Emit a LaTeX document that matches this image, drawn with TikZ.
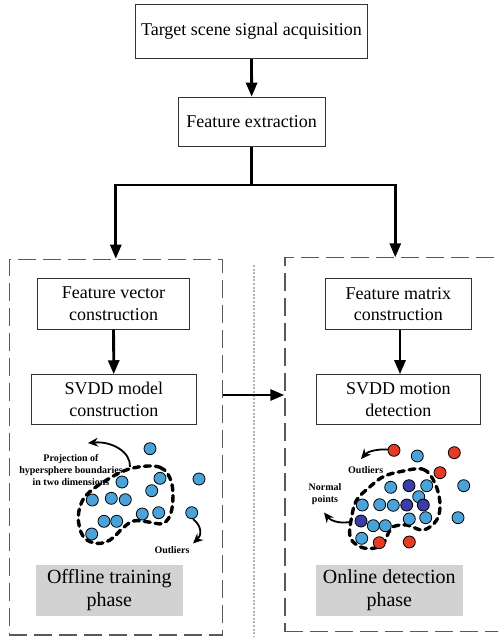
\documentclass[tikz,border=0pt]{standalone}
\usepackage{fontspec}
\setmainfont{Liberation Serif}
\usetikzlibrary{arrows.meta,positioning,calc}
\definecolor{dotblue}{HTML}{4AA3D8}
\definecolor{dotred}{HTML}{E53A26}
\definecolor{dotnavy}{HTML}{3B3DA6}
\definecolor{phasegray}{HTML}{D2D2D2}
\tikzset{
  procbox/.style={draw=black!80,line width=0.9pt,align=center,inner sep=0pt,font=\fontsize{18}{21.7}\selectfont},
  phasebox/.style={fill=phasegray,align=center,inner sep=0pt,minimum width=146.7,minimum height=50.7,font=\fontsize{20}{23.4}\selectfont},
  panelbox/.style={draw=black!65,line width=1.3pt,dash pattern=on 18pt off 7pt,inner sep=0pt},
  flowarr/.style={-{Triangle[length=14pt,width=11pt]},line width=2.8pt},
  flowline/.style={line width=2.8pt},
  blob/.style={line width=3.4pt,dash pattern=on 6pt off 5pt,line cap=round},
  curvarr/.style={-{Stealth[length=10pt,width=9pt]},line width=1.8pt},
  smalllab/.style={font=\bfseries\fontsize{10}{12}\selectfont,align=center,inner sep=0pt},
  dotc/.style={draw=black,line width=0.8pt}
}

\begin{document}
\begin{tikzpicture}[x=1pt,y=-1pt]
  \useasboundingbox (0,0) rectangle (498,637);
  \clip (0,0) rectangle (498,637);

  % main flow
  \node[procbox,minimum width=231.6,minimum height=54.7] (acq) at (251.5,31.3) {Target scene signal acquisition};
  \node[procbox,minimum width=146.7,minimum height=49.7] (fext) at (251.7,122) {Feature extraction};

  % the two phases
  \node[panelbox,minimum width=213,minimum height=375.7] (offline) at (115.8,447.2) {};
  \node[panelbox,minimum width=230,minimum height=374.4] (online) at (400,444.5) {};
  \coordinate (online top) at (395.3,257.3);
  \coordinate (septop) at (254.3,265);
  \coordinate (sepbot) at (254.3,637);
  \draw[gray!60,line width=2.2pt,dash pattern=on 2pt off 1.6pt] (septop) -- (sepbot);

  \node[procbox,minimum width=151.6,minimum height=50.3] (fvec) at (113.5,304) {Feature vector\\construction};
  \node[procbox,minimum width=164.3,minimum height=49.6] (svddm) at (113.8,399.5) {SVDD model\\construction};
  \node[procbox,minimum width=146.7,minimum height=50.3] (fmat) at (398.3,304) {Feature matrix\\construction};
  \node[procbox,minimum width=164.7,minimum height=49.3] (svddd) at (398.3,399.3) {SVDD motion\\detection};

  \node[phasebox] (offlab) at (109.3,590.3) {Offline training\\phase};
  \node[phasebox] (onlab) at (389.3,590.3) {Online detection\\phase};

  % connectors
  \coordinate (split) at (251.7,185);
  \draw[flowarr] (acq) -- (fext);
  \draw[flowline] (fext) -- (split);
  \draw[flowarr] (split) -| (offline.north);
  \draw[flowarr] (split) -| (online top);
  \draw[flowarr] (fvec) -- (svddm);
  \draw[flowarr] (fmat.south -| 400,0) -- (svddd.north -| 400,0);
  \draw[flowarr] (offline.east |- 0,395) -- (online.west |- 0,395);

  % training samples
  \draw[blob] plot[smooth cycle,tension=0.6] coordinates {(131.7,468.3) (160,467.3) (171.7,483.3) (171.7,510) (163.3,523.3) (146.7,521.7) (133.3,521) (123.3,527.7) (110,540) (96.7,543.3) (83.3,536.7) (78.3,516.7) (85,496.7) (106.7,480)};
  \foreach \px/\py in {150/448.7,199/479,160/478.3,151.7/490.7,122/482,92.3/500,111.3/498.3,125.3/499.7,142.3/514,158.7/512.7,191.7/512.7,104/521.3,116.7/521.3,91.7/534}
    \draw[dotc,fill=dotblue] (\px,\py) circle[radius=6];

  \node[smalllab] (projlab) at (71,470) {Projection of\\hypersphere boundaries\\in two dimensions};
  \node[smalllab] (outlabL) at (172,550.3) {Outliers};
  \coordinate (projstart) at (130,467);
  \coordinate (projtip) at (88,443);
  \draw[curvarr] (projstart) .. controls (131,452) and (112,441) .. (projtip);
  \coordinate (outLstart) at (193,519);
  \coordinate (outLtip) at (193,543.5);
  \draw[curvarr] (outLstart) .. controls (203,527) and (201,536) .. (outLtip);

  % detection samples
  \draw[blob] plot[smooth cycle,tension=0.6] coordinates {(400,471.7) (423.3,469.3) (435,483.3) (440,503.3) (436.7,520) (423.3,530) (406.7,525) (393.3,526.7) (388.3,533.3) (383.3,543.3) (373.3,548.3) (360,546.7) (350,536.7) (351.7,516.7) (356.7,500) (370,486.7) (383.3,476.7)};
  \foreach \px/\py in {417.3/456,463.7/485.7,390.7/487.3,426.7/485.7,418.7/496.7,362.3/505,379.7/504.7,393.3/505.3,409.3/519,425.7/517.7,458/517.7,373.3/525.7,385.3/525.7,361.7/538.3}
    \draw[dotc,fill=dotblue] (\px,\py) circle[radius=6];
  \foreach \px/\py in {409/485.7,406.7/505,423.3/505,361/521}
    \draw[dotc,fill=dotnavy] (\px,\py) circle[radius=6];
  \foreach \px/\py in {394/450.3,454.3/452.7,440/472.7,379.3/542.7,409.3/542}
    \draw[dotc,fill=dotred] (\px,\py) circle[radius=6];

  \node[smalllab] (outlabR) at (365.7,470) {Outliers};
  \node[smalllab] (normlab) at (325,493.7) {Normal\\points};
  \coordinate (outRstart) at (388,449.5);
  \coordinate (outRtip) at (361,459);
  \draw[curvarr] (outRstart) .. controls (378,449) and (368,451) .. (outRtip);
  \coordinate (normstart) at (350,522);
  \coordinate (normtip) at (324,512.5);
  \draw[curvarr] (normstart) .. controls (338,524) and (330,520) .. (normtip);
\end{tikzpicture}
\end{document}
